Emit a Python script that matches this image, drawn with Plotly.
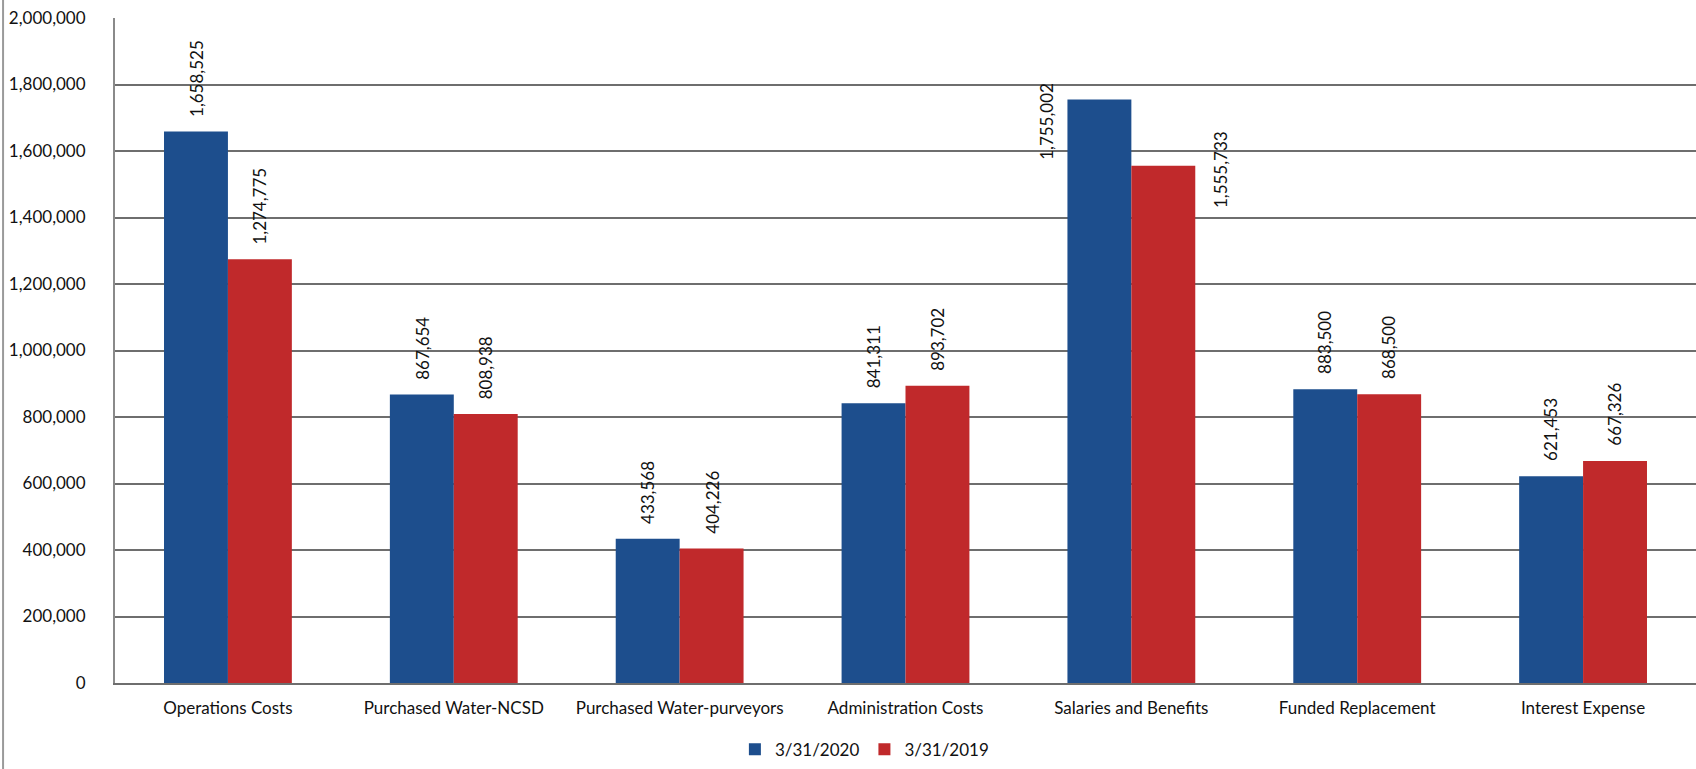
import plotly.graph_objects as go

categories = ["Operations Costs", "Purchased Water-NCSD", "Purchased Water-purveyors",
              "Administration Costs", "Salaries and Benefits", "Funded Replacement",
              "Interest Expense"]
values_2020 = [1658525, 867654, 433568, 841311, 1755002, 883500, 621453]
values_2019 = [1274775, 808938, 404226, 893702, 1555733, 868500, 667326]
series_names = ["3/31/2020", "3/31/2019"]
y_ticks = [0, 200000, 400000, 600000, 800000, 1000000, 1200000, 1400000,
           1600000, 1800000, 2000000]

BLUE = "#1d4e8d"
RED = "#c0292b"
FONT = "Lato"
TXT = "#111111"
FS = 17

fig = go.Figure()
fig.add_trace(go.Bar(name=series_names[0], x=categories, y=values_2020,
                     marker=dict(color=BLUE, line=dict(width=0))))
fig.add_trace(go.Bar(name=series_names[1], x=categories, y=values_2019,
                     marker=dict(color=RED, line=dict(width=0))))

# value labels, rotated, sitting above each bar (two are nudged beside the bars)
offsets = {  # (category index, series index): (xshift, yshift, yanchor)
    (4, 0): (-53, -22, "middle"),
    (4, 1): (57, -4, "middle"),
}
bar_off = 32
annotations = []
for si, vals in enumerate([values_2020, values_2019]):
    for ci, v in enumerate(vals):
        xs = -bar_off if si == 0 else bar_off
        ys, ya = 13, "bottom"
        if (ci, si) in offsets:
            dx, ys, ya = offsets[(ci, si)]
            xs += dx
        annotations.append(dict(
            x=categories[ci], y=v, xref="x", yref="y", text=f"{v:,}",
            textangle=-90, showarrow=False, xshift=xs, yshift=ys,
            xanchor="center", yanchor=ya,
            font=dict(family=FONT, size=FS, color=TXT)))

fig.update_layout(
    width=1696, height=769,
    margin=dict(l=115, r=0, t=18, b=86, autoexpand=False),
    paper_bgcolor="white", plot_bgcolor="white",
    barmode="group", bargap=0.434, bargroupgap=0,
    font=dict(family=FONT, size=FS, color=TXT),
    showlegend=True,
    legend=dict(orientation="h", x=0.474, xanchor="center",
                yref="container", y=0.025, yanchor="middle",
                font=dict(family=FONT, size=FS, color=TXT),
                itemwidth=30, traceorder="normal"),
    annotations=annotations,
    shapes=[dict(type="line", xref="paper", yref="paper", x0=-0.0708, x1=-0.0708,
                 y0=-0.2, y1=1.05, line=dict(color="#9a9a9a", width=2))],
)
fig.update_xaxes(showgrid=False, showline=True, linecolor="#6e6e6e", linewidth=2,
                 ticks="", automargin=False,
                 tickfont=dict(family=FONT, size=FS, color=TXT),
                 ticklabelstandoff=9)
fig.update_yaxes(range=[0, 2000000], tickvals=y_ticks,
                 ticktext=[f"{t:,}" for t in y_ticks], automargin=False,
                 showgrid=True, gridcolor="#6e6e6e", gridwidth=2,
                 showline=True, linecolor="#8a8a8a", linewidth=2,
                 zeroline=False, ticks="", ticklabelstandoff=24,
                 tickfont=dict(family=FONT, size=FS, color=TXT))

fig.write_html("out.html")
